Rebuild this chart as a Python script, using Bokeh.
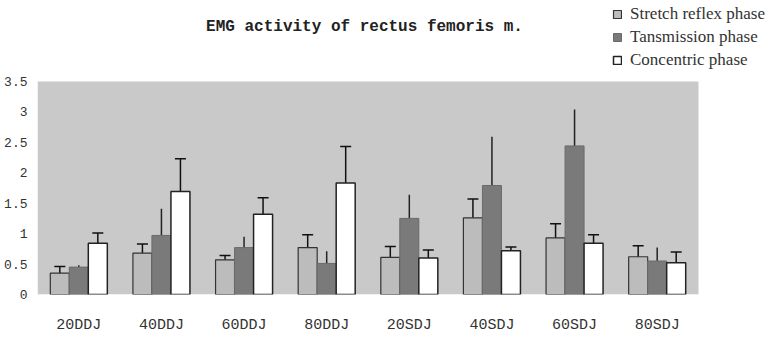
from bokeh.plotting import figure
from bokeh.models import (ColumnDataSource, Range1d, Whisker, TeeHead, BoxAnnotation,
                          Legend, LegendItem, Label, FixedTicker)
from bokeh.transform import dodge
from bokeh.embed import file_html
from bokeh.resources import INLINE

categories = ["20DDJ", "40DDJ", "60DDJ", "80DDJ", "20SDJ", "40SDJ", "60SDJ", "80SDJ"]
series_names = ["Stretch reflex phase", "Tansmission phase", "Concentric phase"]
stretch = [0.35, 0.68, 0.57, 0.77, 0.61, 1.26, 0.93, 0.62]
stretch_err = [0.11, 0.15, 0.07, 0.21, 0.18, 0.31, 0.23, 0.18]
transmission = [0.45, 0.97, 0.77, 0.51, 1.25, 1.79, 2.44, 0.55]
transmission_err = [0.03, 0.44, 0.18, 0.20, 0.39, 0.80, 0.60, 0.22]
concentric = [0.84, 1.69, 1.32, 1.83, 0.60, 0.72, 0.84, 0.52]
concentric_err = [0.17, 0.54, 0.27, 0.60, 0.13, 0.06, 0.14, 0.18]
y_ticks = [0, 0.5, 1, 1.5, 2, 2.5, 3, 3.5]
y_tick_labels = ["0", "0.5", "1", "1.5", "2", "2.5", "3", "3.5"]
title_text = "EMG activity of rectus femoris m."

colors = ["#bcbcbc", "#7a7a7a", "#ffffff"]
outlines = ["#333333", "#6a6a6a", "#222222"]
mono = "Liberation Mono"

xpos = list(range(len(categories)))
src = ColumnDataSource(dict(
    x=xpos,
    s=stretch, s_lo=[v - e for v, e in zip(stretch, stretch_err)], s_hi=[v + e for v, e in zip(stretch, stretch_err)],
    t=transmission, t_lo=[v - e for v, e in zip(transmission, transmission_err)], t_hi=[v + e for v, e in zip(transmission, transmission_err)],
    c=concentric, c_lo=[v - e for v, e in zip(concentric, concentric_err)], c_hi=[v + e for v, e in zip(concentric, concentric_err)],
))

# layout geometry (pixels)
WIDTH, HEIGHT = 773, 336
LEFT, RIGHT_PLOT, TOP_PLOT, BOTTOM = 37, 698, 82, 298
y_max = y_ticks[-1]
px_per_y = (BOTTOM - TOP_PLOT) / y_max
px_per_x = (RIGHT_PLOT - LEFT) / len(categories)
x_start = -0.5
x_end = x_start + (WIDTH - LEFT) / px_per_x
y_end = BOTTOM / px_per_y

p = figure(x_range=Range1d(x_start, x_end), y_range=Range1d(0, y_end),
           width=WIDTH, height=HEIGHT, output_backend="svg", toolbar_location=None,
           min_border_left=LEFT, min_border_right=0, min_border_top=0,
           min_border_bottom=HEIGHT - BOTTOM)
p.background_fill_color = "white"
p.border_fill_color = "white"
p.outline_line_color = None
p.xgrid.grid_line_color = None
p.ygrid.grid_line_color = None

p.add_layout(BoxAnnotation(left=x_start, right=len(categories) + x_start, bottom=0, top=y_max,
                           fill_color="#c9c9c9", fill_alpha=1.0, line_color=None, level="underlay"))

W = 0.23
r1 = p.vbar(x=dodge("x", -W), top="s", width=W, source=src,
            fill_color=colors[0], line_color=outlines[0], line_width=1.2)
r2 = p.vbar(x=dodge("x", 0), top="t", width=W, source=src,
            fill_color=colors[1], line_color=outlines[1], line_width=1.0)
r3 = p.vbar(x=dodge("x", W), top="c", width=W, source=src,
            fill_color=colors[2], line_color=outlines[2], line_width=1.5)

def cap():
    return TeeHead(size=11, line_color="#111111", line_width=1.5)

w1 = Whisker(base=dodge("x", -W), upper="s_hi", lower="s_lo", source=src,
             upper_head=cap(), lower_head=cap(), line_color="#111111", line_width=1.5)
w2 = Whisker(base=dodge("x", 0), upper="t_hi", lower="t_lo", source=src,
             upper_head=None, lower_head=None, line_color="#222222", line_width=1.5)
w3 = Whisker(base=dodge("x", W), upper="c_hi", lower="c_lo", source=src,
             upper_head=cap(), lower_head=cap(), line_color="#111111", line_width=1.5)
for w in (w1, w2, w3):
    p.add_layout(w)

p.yaxis.ticker = FixedTicker(ticks=y_ticks)
p.yaxis.major_label_overrides = {t: l for t, l in zip(y_ticks, y_tick_labels)}
p.yaxis.axis_line_color = None
p.yaxis.major_tick_line_color = None
p.yaxis.minor_tick_line_color = None
p.yaxis.major_tick_out = 0
p.yaxis.major_tick_in = 0
p.yaxis.minor_tick_out = 0
p.yaxis.major_label_standoff = 10
p.yaxis.major_label_text_font = mono
p.yaxis.major_label_text_font_size = "13px"
p.yaxis.major_label_text_color = "#333333"

p.xaxis.ticker = FixedTicker(ticks=xpos)
p.xaxis.major_label_overrides = {i: c for i, c in zip(xpos, categories)}
p.xaxis.axis_line_color = None
p.xaxis.major_tick_line_color = None
p.xaxis.minor_tick_line_color = None
p.xaxis.major_tick_out = 0
p.xaxis.major_tick_in = 0
p.xaxis.minor_tick_out = 0
p.xaxis.major_label_standoff = 22
p.xaxis.major_label_text_font = mono
p.xaxis.major_label_text_font_size = "15px"
p.xaxis.major_label_text_color = "#333333"

legend = Legend(items=[LegendItem(label=series_names[0], renderers=[r1]),
                       LegendItem(label=series_names[1], renderers=[r2]),
                       LegendItem(label=series_names[2], renderers=[r3])],
                location=(612 - LEFT, BOTTOM - 74), glyph_width=10, glyph_height=10,
                label_height=20, spacing=3, padding=0, margin=0, label_standoff=8,
                label_text_font="Liberation Serif", label_text_font_size="17px",
                label_text_color="#333333", background_fill_alpha=0, border_line_color=None)
p.add_layout(legend, "center")

title = Label(x=364 - LEFT, y=BOTTOM - 30, x_units="screen", y_units="screen", text=title_text,
              text_font=mono, text_font_size="16px", text_font_style="bold",
              text_align="center", text_baseline="middle", text_color="#222222")
p.add_layout(title)

open("out.html", "w").write(file_html(p, INLINE))
